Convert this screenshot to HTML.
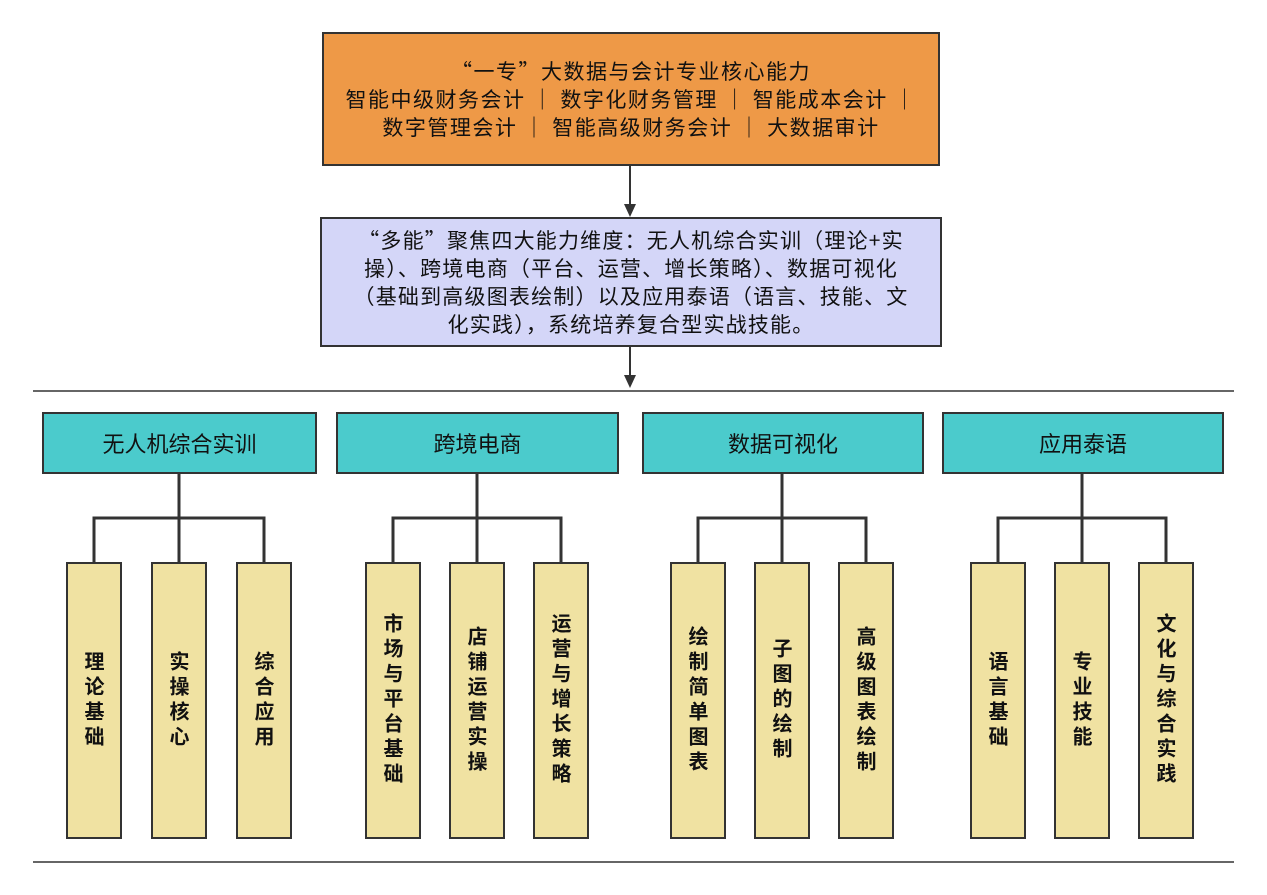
<!DOCTYPE html>
<html><head><meta charset="utf-8"><style>
body{margin:0;width:1267px;height:895px;background:#fff;position:relative;overflow:hidden;font-family:"Noto Sans CJK SC","Liberation Sans",sans-serif;color:#111}
.b{position:absolute;box-sizing:border-box;border:2px solid #333;display:flex;align-items:center;justify-content:center;text-align:center;white-space:nowrap}
.o{background:#EE9947;font-size:21px;line-height:28px;letter-spacing:1.5px}
.p{background:#D4D6F8;font-size:21px;line-height:28px;letter-spacing:1.2px}
.t{background:#4BCBCC;font-size:22px;top:412px;height:62px}
.c{background:#F0E2A2;top:562px;height:277px;width:56px;font-size:20px;font-weight:bold;line-height:26px;writing-mode:vertical-rl;text-orientation:upright;letter-spacing:5px}
svg{position:absolute;left:0;top:0}
</style></head><body>
<svg width="1267" height="895">
<g stroke="#333" stroke-width="2" fill="none">
<line x1="630" y1="165" x2="630" y2="205"/>
<line x1="630" y1="346" x2="630" y2="376"/>
<line x1="33" y1="391" x2="1234" y2="391" stroke-width="1.5"/>
<line x1="33" y1="862" x2="1234" y2="862" stroke-width="1.5"/>
<g stroke-width="3">
<path d="M179 474V518M94 562V518H264V562M179 518V562"/>
<path d="M477 474V518M393 562V518H561V562M477 518V562"/>
<path d="M782 474V518M698 562V518H866V562M782 518V562"/>
<path d="M1082 474V518M998 562V518H1166V562M1082 518V562"/>
</g></g>
<polygon points="624,204 636,204 630,217" fill="#333"/>
<polygon points="624,375 636,375 630,388" fill="#333"/>
</svg>
<div class="b o" style="left:322px;top:32px;width:618px;height:134px">“一专”大数据与会计专业核心能力<br>智能中级财务会计 ｜ 数字化财务管理 ｜ 智能成本会计 ｜<br>数字管理会计 ｜ 智能高级财务会计 ｜ 大数据审计</div>
<div class="b p" style="left:320px;top:217px;width:622px;height:130px">“多能”聚焦四大能力维度：无人机综合实训（理论+实<br>操）、跨境电商（平台、运营、增长策略）、数据可视化<br>（基础到高级图表绘制）以及应用泰语（语言、技能、文<br>化实践），系统培养复合型实战技能。</div>
<div class="b t" style="left:42px;width:275px">无人机综合实训</div>
<div class="b t" style="left:336px;width:283px">跨境电商</div>
<div class="b t" style="left:642px;width:282px">数据可视化</div>
<div class="b t" style="left:942px;width:282px">应用泰语</div>
<div class="b c" style="left:66px">理论基础</div>
<div class="b c" style="left:151px">实操核心</div>
<div class="b c" style="left:236px">综合应用</div>
<div class="b c" style="left:365px">市场与平台基础</div>
<div class="b c" style="left:449px">店铺运营实操</div>
<div class="b c" style="left:533px">运营与增长策略</div>
<div class="b c" style="left:670px">绘制简单图表</div>
<div class="b c" style="left:754px">子图的绘制</div>
<div class="b c" style="left:838px">高级图表绘制</div>
<div class="b c" style="left:970px">语言基础</div>
<div class="b c" style="left:1054px">专业技能</div>
<div class="b c" style="left:1138px">文化与综合实践</div>
</body></html>
